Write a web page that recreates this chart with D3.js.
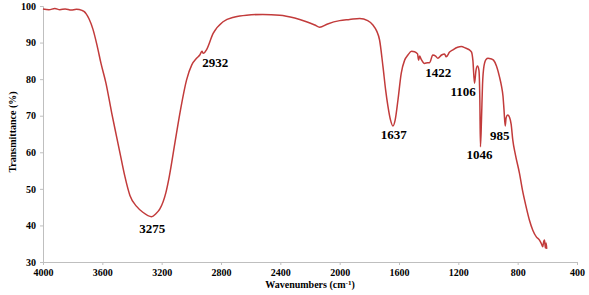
<!DOCTYPE html>
<html>
<head>
<meta charset="utf-8">
<script src="https://cdn.jsdelivr.net/npm/d3@7"></script>
<style>
  body { margin: 0; background: #fff; }
  svg text { font-family: "Liberation Serif", "Times New Roman", serif; font-weight: bold; fill: #000; }
</style>
</head>
<body>
<svg id="chart" width="589" height="295"></svg>
<script>
// spectrum (wavenumber cm-1, transmittance %)
var wavenumbers = [4000, 3960, 3920, 3886, 3850, 3810, 3775, 3737, 3720, 3710, 3690, 3663, 3636, 3609, 3576,
  3537, 3504, 3475, 3448, 3414, 3369, 3327, 3268, 3239, 3212, 3172, 3149, 3111, 3073, 3032, 2997, 2965,
  2943, 2928, 2921, 2910, 2898, 2853, 2786, 2707, 2628, 2518, 2404, 2303, 2224, 2168, 2135, 2081, 2000,
  1933, 1865, 1811, 1776, 1751, 1731, 1708, 1690, 1675, 1657, 1641, 1626, 1607, 1585, 1562, 1540, 1515,
  1495, 1475, 1468, 1461, 1450, 1428, 1407, 1394, 1372, 1353, 1338, 1313, 1293, 1282, 1259, 1237, 1205,
  1180, 1151, 1125, 1111, 1102, 1091, 1081, 1071, 1061, 1055, 1051, 1044, 1037, 1027, 1013, 1000, 983,
  963, 943, 923, 909, 899, 892, 884, 878, 867, 855, 844, 833, 815, 788, 768, 743, 721, 698, 673, 653,
  639, 631, 624, 619, 613, 608, 604];
var transmittance = [99.2, 99.0, 99.3, 99.0, 99.2, 98.9, 99.1, 98.8, 98.4, 97.9, 96.5, 93.6, 89.3, 84.3, 79.0,
  70.8, 64.3, 58.6, 53.4, 48.2, 45.2, 43.6, 42.4, 43.2, 44.5, 48.9, 53.3, 62.5, 71.6, 79.8, 83.9, 85.7,
  86.6, 87.6, 87.1, 87.3, 88.0, 92.5, 95.7, 97.0, 97.5, 97.7, 97.5, 96.7, 95.7, 94.8, 94.2, 95.1, 96.0,
  96.3, 96.6, 96.0, 94.8, 93.2, 90.7, 83.4, 77.0, 72.7, 68.8, 67.2, 68.8, 74.3, 81.6, 85.2, 86.6, 87.6,
  87.5, 86.9, 85.2, 86.3, 85.4, 84.3, 84.5, 84.5, 86.6, 86.3, 85.7, 86.6, 86.9, 86.1, 87.4, 88.0, 88.7,
  88.9, 88.5, 88.0, 87.4, 85.2, 78.9, 82.4, 83.6, 82.4, 74.3, 61.5, 68.8, 78.4, 83.6, 85.4, 85.7, 85.6,
  85.2, 83.6, 80.7, 78.1, 75.4, 71.6, 67.2, 69.4, 70.2, 69.6, 67.7, 63.4, 59.3, 54.3, 49.7, 45.1, 41.5,
  38.7, 36.8, 36.0, 34.9, 34.2, 35.7, 36.0, 33.8, 35.2, 33.6];

// peak labels and where their text sits
var peakLabels = ["3275", "2932", "1637", "1422", "1106", "1046", "985"];
var peakLabelX = [3263, 2838, 1636, 1335, 1167, 1057, 921];
var peakLabelY = [37.9, 83.3, 63.6, 80.7, 75.3, 58.3, 63.4];

var xTicks = [4000, 3600, 3200, 2800, 2400, 2000, 1600, 1200, 800, 400];
var yTicks = [30, 40, 50, 60, 70, 80, 90, 100];

var svg = d3.select("#chart");

var x = d3.scaleLinear().domain([4000, 400]).range([43, 577]);
var y = d3.scaleLinear().domain([30, 100]).range([262, 6]);

// axes
var xAxis = svg.append("g")
    .attr("transform", "translate(0,262)")
    .call(d3.axisBottom(x).tickValues(xTicks).tickSize(3).tickPadding(4).tickFormat(d3.format("d")));
var yAxis = svg.append("g")
    .attr("transform", "translate(43,0)")
    .call(d3.axisLeft(y).tickValues(yTicks).tickSize(3).tickPadding(4));

[xAxis, yAxis].forEach(function(a){
    a.select(".domain").attr("stroke", "#bfbfbf");
    a.selectAll(".tick line").attr("stroke", "#bfbfbf");
    a.selectAll(".tick text")
        .style("font-family", "'Liberation Serif', serif")
        .style("font-weight", "bold")
        .style("font-size", "10px")
        .attr("fill", "#000");
});

// the spectrum
var pts = wavenumbers.map(function(w, i){ return [w, transmittance[i]]; });
var line = d3.line()
    .x(function(d){ return x(d[0]); })
    .y(function(d){ return y(d[1]); })
    .curve(d3.curveMonotoneX);

svg.append("path")
    .datum(pts)
    .attr("d", line)
    .attr("fill", "none")
    .attr("stroke", "#c23b3b")
    .attr("stroke-width", 1.5)
    .attr("stroke-linejoin", "round");

// peak annotations
svg.selectAll(".peak")
    .data(peakLabels)
    .enter().append("text")
    .attr("class", "peak")
    .attr("x", function(d, i){ return x(peakLabelX[i]); })
    .attr("y", function(d, i){ return y(peakLabelY[i]); })
    .attr("text-anchor", "middle")
    .style("font-size", "13px")
    .text(function(d){ return d; });

// axis titles
svg.append("text")
    .attr("transform", "translate(16,132) rotate(-90)")
    .attr("text-anchor", "middle")
    .style("font-size", "10px")
    .text("Transmittance (%)");

var xt = svg.append("text")
    .attr("x", 310)
    .attr("y", 288)
    .attr("text-anchor", "middle")
    .style("font-size", "10px");
xt.append("tspan").text("Wavenumbers (cm");
xt.append("tspan").attr("dy", -3).style("font-size", "7px").text("-1");
xt.append("tspan").attr("dy", 3).text(")");
</script>
</body>
</html>
